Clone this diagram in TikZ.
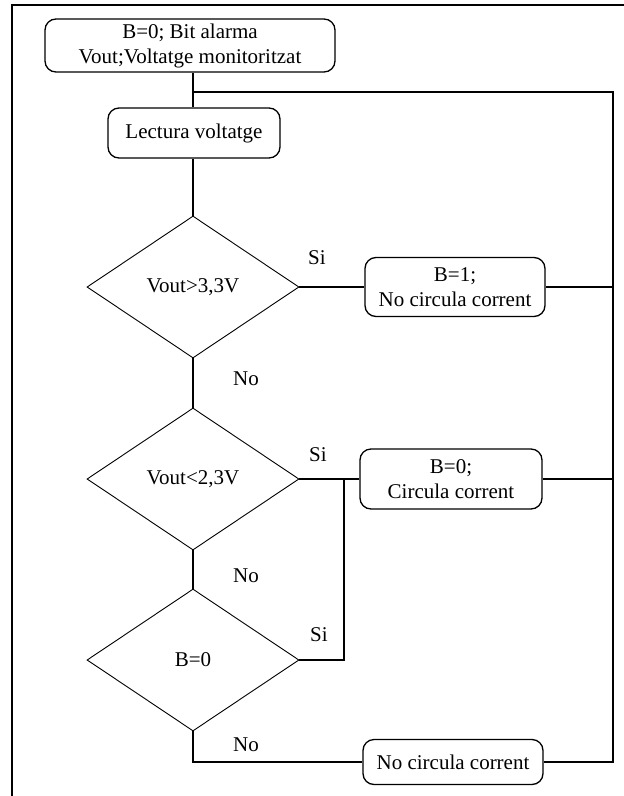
\documentclass[tikz,border=0pt]{standalone}
\usepackage{fontspec}
\setmainfont{Liberation Serif}
\usetikzlibrary{shapes.geometric}
\begin{document}
\begin{tikzpicture}[x=1pt,y=-1pt,
  txt/.style={font=\fontsize{21}{25}\selectfont},
  proc/.style={txt, draw, rounded corners=11pt, line width=1.3pt, inner sep=0pt, align=center},
  dec/.style={txt, draw, diamond, line width=0.9pt, inner sep=0pt, minimum width=212pt, minimum height=142pt},
  flow/.style={line width=1.3pt},
  lab/.style={txt, inner sep=0pt}]
\useasboundingbox (0,0) rectangle (624,796);
\draw[line width=2pt] (12,796) -- (12,5) -- (624,5);
% nodes
\node[proc, minimum width=290pt, minimum height=53pt] (start) at (190,45.5) {B=0; Bit alarma\\Vout;Voltatge monitoritzat};
\node[proc, minimum width=172pt, minimum height=50pt] (lect) at (194,133) {Lectura voltatge};
\node[dec] (d1) at (193,287) {Vout>3,3V};
\node[dec] (d2) at (193,479) {Vout<2,3V};
\node[dec] (d3) at (193,660) {B=0};
\node[proc, minimum width=180pt, minimum height=59pt] (b1) at (455,287) {B=1;\\No circula corrent};
\node[proc, minimum width=182pt, minimum height=60pt] (b0) at (451,479) {B=0;\\Circula corrent};
\node[proc, minimum width=180pt, minimum height=45pt] (nc) at (453,762) {No circula corrent};
% labels
\node[lab] (si1) at (317,258) {Si};
\node[lab] (no1) at (246,379) {No};
\node[lab] (si2) at (318,455) {Si};
\node[lab] (no2) at (246,576) {No};
\node[lab] (si3) at (319,635) {Si};
\node[lab] (no3) at (246,745) {No};
% coordinates
\coordinate (j0) at (193,92);
\coordinate (rt) at (613,92);
\coordinate (j1) at (344,479);
\coordinate (c3) at (193,762);
% connectors
\draw[flow] (start.south -| j0) -- (j0) -- (lect.north -| j0);
\draw[flow] (j0) -- (rt) -- (rt |- nc.east) -- (nc.east);
\draw[flow] (lect.south -| j0) -- (d1.north);
\draw[flow] (d1.east) -- (b1.west);
\draw[flow] (b1.east) -- (b1.east -| rt);
\draw[flow] (d1.south) -- (d2.north);
\draw[flow] (d2.east) -- (b0.west);
\draw[flow] (b0.east) -- (b0.east -| rt);
\draw[flow] (d2.south) -- (d3.north);
\draw[flow] (d3.east) -- (d3.east -| j1) -- (j1);
\draw[flow] (d3.south) -- (c3) -- (nc.west);
\end{tikzpicture}
\end{document}
